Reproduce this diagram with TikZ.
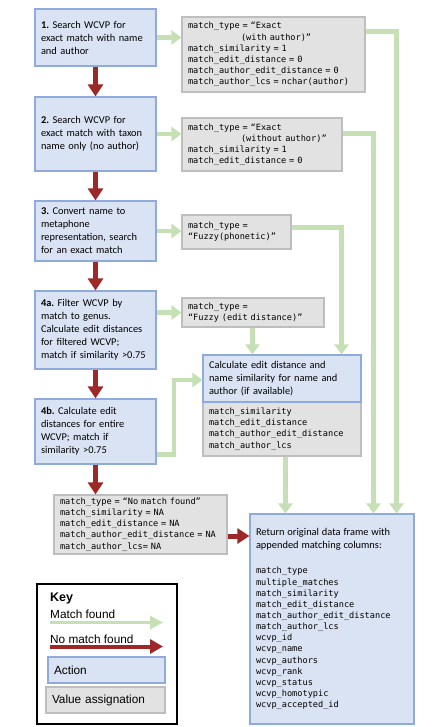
\documentclass[tikz,border=0pt]{standalone}
\usepackage{fontspec}
\setmonofont{DejaVu Sans Mono}
\newfontfamily\carlito{Carlito}
\newfontfamily\arialf{Liberation Sans}
\usetikzlibrary{arrows.meta}
\definecolor{actf}{RGB}{218,227,243}
\definecolor{actb}{RGB}{143,170,220}
\definecolor{valf}{RGB}{226,226,226}
\definecolor{valb}{RGB}{190,190,190}
\definecolor{grn}{RGB}{197,224,180}
\definecolor{rd}{RGB}{158,40,40}
\newcommand\actfont{\carlito\fontsize{10.4}{13}\selectfont\frenchspacing}
\newcommand\valfont{\ttfamily\fontsize{8.6}{11.15}\selectfont}
\newcommand\keyfont{\arialf\fontsize{11.8}{14}\selectfont}
\tikzset{
  act/.style={draw=actb, fill=actf, line width=1.1pt, inner xsep=6pt, inner ysep=0pt, font=\actfont, align=left},
  val/.style={draw=valb, fill=valf, line width=1.1pt, inner xsep=6pt, inner ysep=0pt, font=\valfont, align=left},
  garrow/.style={draw=grn, line width=4.5pt, -{Triangle[width=14pt,length=10pt]}},
  rarrow/.style={draw=rd, line width=5pt, -{Triangle[width=15pt,length=12pt]}},
  keytxt/.style={inner sep=0pt, anchor=west, font=\keyfont},
}
\begin{document}
\begin{tikzpicture}[x=1pt,y=-1pt]
\useasboundingbox (0,0) rectangle (444,727);
% action boxes
\node[act, text width=109pt, minimum height=57pt] (b1) at (95.5,37.5)
  {\textbf{1.} Search WCVP for\\exact match with name\\and author};
\node[act, text width=109pt, minimum height=74pt] (b2) at (95.5,134)
  {\textbf{2.} Search WCVP for\\exact match with taxon\\name only (no author)};
\node[act, text width=109pt, minimum height=60pt] (b3) at (95.5,231)
  {\textbf{3.} Convert name to\\metaphone\\representation, search\\for an exact match};
\node[act, text width=109pt, minimum height=78pt] (b4a) at (95.5,330)
  {\textbf{4a.} Filter WCVP by\\match to genus.\\Calculate edit distances\\for filtered WCVP;\\match if similarity >0.75};
\node[act, text width=109pt, minimum height=65pt] (b4b) at (95.5,431.5)
  {\textbf{4b.} Calculate edit\\distances for entire\\WCVP; match if\\similarity >0.75};
% value boxes
\node[val, text width=171pt, minimum height=75pt] (g1) at (273.5,54.5)
  {match\_type = “Exact\\\hspace*{53pt}(with author)”\\match\_similarity = 1\\match\_edit\_distance = 0\\match\_author\_edit\_distance = 0\\match\_author\_lcs = nchar(author)};
\node[val, text width=148pt, minimum height=53pt] (g2) at (262,144.5)
  {match\_type = “Exact\\\hspace*{53pt}(without author)”\\match\_similarity = 1\\match\_edit\_distance = 0};
\node[val, text width=97pt, minimum height=34pt] (g3) at (236.5,232)
  {match\_type =\\“Fuzzy(phonetic)”};
\node[val, text width=130pt, minimum height=29pt] (g4a) at (253,312.5)
  {match\_type =\\“Fuzzy (edit distance)”};
\node[val, text width=146pt, minimum height=54pt] (calcg) at (282,429)
  {match\_similarity\\match\_edit\_distance\\match\_author\_edit\_distance\\match\_author\_lcs};
\node[act, text width=146pt, minimum height=47pt] (calc) at (282,378.5)
  {Calculate edit distance and\\name similarity for name and\\author (if available)};
\node[val, text width=161pt, minimum height=59pt] (nm) at (140.5,524.5)
  {match\_type = “No match found”\\match\_similarity = NA\\match\_edit\_distance = NA\\match\_author\_edit\_distance = NA\\match\_author\_lcs= NA};
\node[act, font=\valfont, text width=152pt, minimum height=210pt] (ret) at (332,619)
  {{\actfont Return original data frame with}\\[1.5pt]{\actfont appended matching columns:}\\[14.5pt]
   match\_type\\multiple\_matches\\match\_similarity\\match\_edit\_distance\\match\_author\_edit\_distance\\match\_author\_lcs\\wcvp\_id\\wcvp\_name\\wcvp\_authors\\wcvp\_rank\\wcvp\_status\\wcvp\_homotypic\\wcvp\_accepted\_id};
% red arrows (no match)
\draw[rarrow] (b1) -- (b2);
\draw[rarrow] (b2) -- (b3);
\draw[rarrow] (b3) -- (b4a);
\draw[rarrow] (b4a) -- (b4b);
\draw[rarrow] (b4b.south) -- (b4b.south |- nm.north);
\coordinate (nmout) at ([yshift=-11.5pt]nm.east);
\draw[rarrow] (nmout) -- (nmout -| ret.west);
% green arrows (match)
\draw[garrow] (b1.east) -- (b1.east -| g1.west);
\draw[garrow] (b2.east) -- (b2.east -| g2.west);
\draw[garrow] (b3.east) -- (b3.east -| g3.west);
\draw[garrow] (g4a.west -| b4a.east) -- (g4a.west);
\coordinate (g1out) at ([yshift=-15pt]g1.north east);
\coordinate (r1) at ([xshift=-18pt]ret.north east);
\draw[garrow] (g1out) -| (r1);
\coordinate (g2out) at ([yshift=-16pt]g2.north east);
\coordinate (r2) at ([xshift=-41pt]ret.north east);
\draw[garrow] (g2out) -| (r2);
\coordinate (g3out) at ([yshift=-13pt]g3.north east);
\coordinate (c1) at ([xshift=-20pt]calc.north east);
\draw[garrow] (g3out) -| (c1);
\coordinate (g4out) at ([xshift=71pt]g4a.south west);
\draw[garrow] (g4out) -- (g4out |- calc.north);
\coordinate (cgout) at ([xshift=83pt]calcg.south west);
\draw[garrow] (cgout) -- (cgout |- ret.north);
\coordinate (b4out) at ([yshift=10pt]b4b.south east);
\coordinate (bend) at (174,380);
\draw[garrow] (b4out) -- (b4out -| bend) -- (bend) -- (bend -| calc.west);
% key
\node[draw=black, line width=1.5pt, minimum width=140pt, minimum height=140pt, inner sep=0pt] (keybox) at (107,654) {};
\node[keytxt, font=\arialf\bfseries\fontsize{12.5}{14}\selectfont] (keyt) at (50,598) {Key};
\node[keytxt] (kmf) at (50,614) {Match found};
\coordinate (kg1) at (50,622.5);
\coordinate (kg2) at (163,622.5);
\draw[draw=grn, line width=3pt, -{Triangle[width=13pt,length=13pt]}] (kg1) -- (kg2);
\node[keytxt] (knm) at (50,639.5) {No match found};
\coordinate (kr1) at (50,646.5);
\coordinate (kr2) at (163,646.5);
\draw[draw=rd, line width=4pt, -{Triangle[width=14pt,length=13pt]}] (kr1) -- (kr2);
\node[act, font=\keyfont, text width=105pt, minimum height=26pt] (kact) at (106.5,670) {Action};
\node[val, font=\keyfont, text width=107pt, minimum height=26pt] (kval) at (105.5,700) {Value assignation};
\end{tikzpicture}
\end{document}
